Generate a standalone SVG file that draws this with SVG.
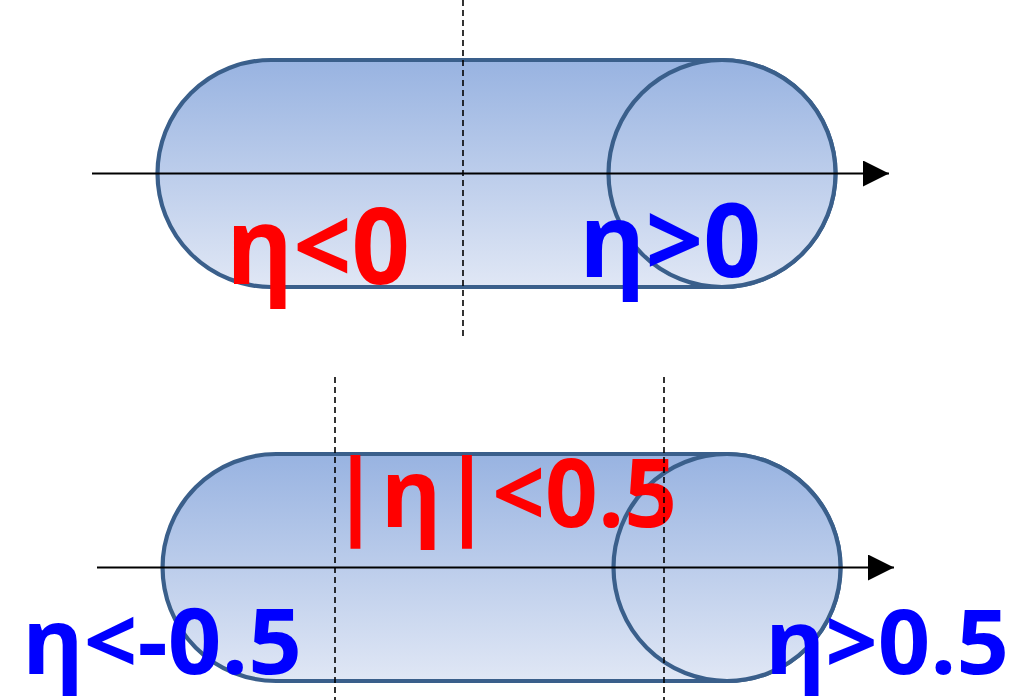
<svg xmlns="http://www.w3.org/2000/svg" width="1018" height="700" viewBox="0 0 1018 700">
<style>
.body{fill:url(#g);stroke:#3a5f8b;stroke-width:4.2}
.axis{stroke:#000;stroke-width:2;fill:none}
.dash{stroke:#000;stroke-width:1.6;stroke-dasharray:6 4;fill:none}
.lbl{font-family:"Open Sans","Noto Sans","DejaVu Sans",sans-serif;font-weight:bold}
.red{fill:#ff0000}
.blue{fill:#0000ff}
</style>
<defs>
<linearGradient id="g" x1="0" y1="0" x2="0" y2="1">
<stop offset="0" stop-color="#98b3e1"/>
<stop offset="1" stop-color="#e0e7f5"/>
</linearGradient>
<marker id="ah" viewBox="0 0 26 26" refX="26" refY="13" markerWidth="26" markerHeight="26" markerUnits="userSpaceOnUse" orient="auto">
<path d="M0,0 L26,13 L0,26 Z" fill="#000"/>
</marker>
</defs>
<rect width="1018" height="700" fill="#fff"/>
<g id="cylinder-top">
<path class="body" d="M271,60 H722 A113.5,113.5 0 0 1 722,287 H271 A113.5,113.5 0 0 1 271,60 Z"/>
<circle class="body" cx="722" cy="173.5" r="113.5"/>
</g>
<g id="cylinder-bottom">
<path class="body" d="M276,454 H727 A113.5,113.5 0 0 1 727,681 H276 A113.5,113.5 0 0 1 276,454 Z"/>
<circle class="body" cx="727" cy="567.5" r="113.5"/>
</g>
<g id="connectors">
<line class="axis" x1="92" y1="173.5" x2="889" y2="173.5" marker-end="url(#ah)"/>
<line class="axis" x1="97" y1="567.5" x2="894" y2="567.5" marker-end="url(#ah)"/>
</g>
<g id="label-eta-neg" class="lbl red"><text x="226" y="284" font-size="106" textLength="184" lengthAdjust="spacingAndGlyphs">η&lt;0</text></g>
<g id="label-eta-pos" class="lbl blue"><text x="579" y="277" font-size="102" textLength="182" lengthAdjust="spacingAndGlyphs">η&gt;0</text></g>
<g id="label-abs-eta" class="lbl red"><text x="330" y="527" font-size="95" textLength="347" lengthAdjust="spacingAndGlyphs">|η|&lt;0.5</text></g>
<g id="label-eta-lt" class="lbl blue"><text x="22" y="674" font-size="91" textLength="280" lengthAdjust="spacingAndGlyphs">η&lt;-0.5</text></g>
<g id="label-eta-gt" class="lbl blue"><text x="765" y="674" font-size="90" textLength="244" lengthAdjust="spacingAndGlyphs">η&gt;0.5</text></g>
<g id="dividers">
<line class="dash" x1="463" y1="0" x2="463" y2="338"/>
<line class="dash" x1="335" y1="377" x2="335" y2="700"/>
<line class="dash" x1="664" y1="377" x2="664" y2="700"/>
</g>
</svg>
